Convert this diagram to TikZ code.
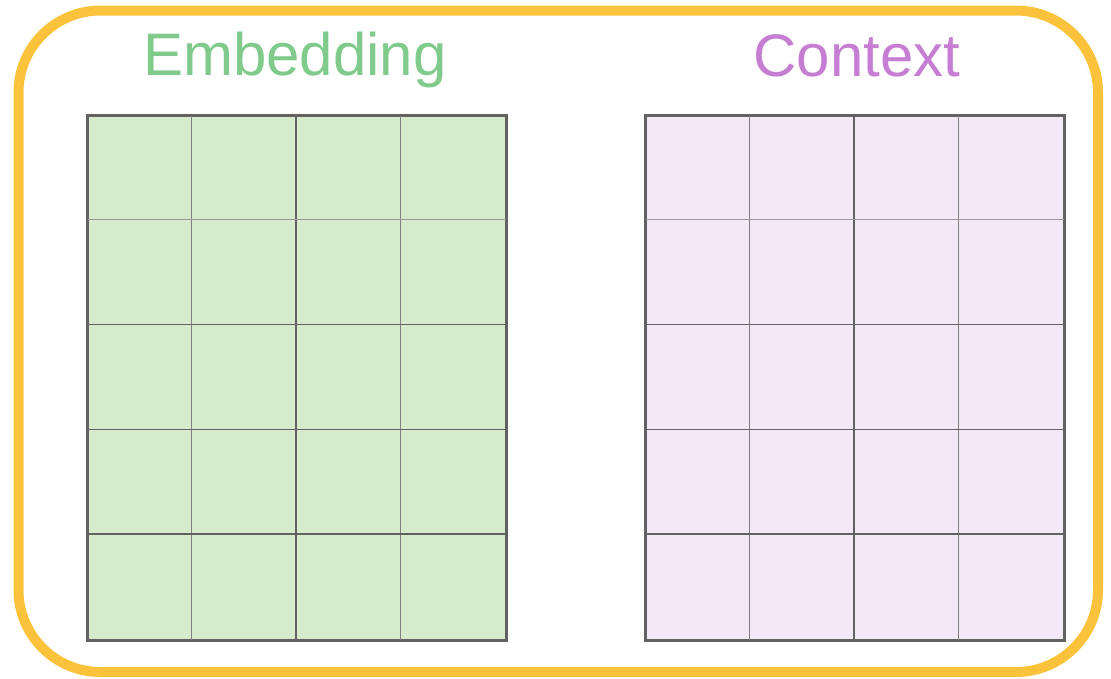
\documentclass[tikz,border=0pt]{standalone}
\usepackage{fontspec}
\setmainfont{Liberation Sans}
\usetikzlibrary{calc}

\definecolor{framegold}{HTML}{FBC33B}
\definecolor{embgreen}{HTML}{80CB8B}
\definecolor{embfill}{HTML}{D5EBCB}
\definecolor{ctxpurple}{HTML}{C67ED3}
\definecolor{ctxfill}{HTML}{F3E8F6}
\definecolor{linegray}{HTML}{626262}

\begin{document}
\begin{tikzpicture}[
  x=1pt, y=-1pt,
  % rounded outer frame
  frame/.style={
    draw=framegold,
    line width=10pt,
    rounded corners=82pt,
    minimum width=1079.5pt,
    minimum height=661.5pt,
    inner sep=0pt
  },
  cellgrid/.style={
    draw=linegray,
    line width=2pt,
    minimum width=418pt,
    minimum height=524pt,
    inner sep=0pt
  },
  title/.style={font=\fontsize{60}{62}\selectfont, anchor=base, inner sep=0pt},
  minorline/.style={line width=1pt, draw=black!50},
  majorline/.style={line width=1.8pt, draw=linegray}
]
\useasboundingbox (0,0) rectangle (1111,678);

\node[frame] (frame) at (558.25,341.25) {};

\node[title, text=embgreen] (embtitle) at (295,75) {Embedding};
\node[title, text=ctxpurple] (ctxtitle) at (857,76) {Context};

% the two 4x5 grids
\node[cellgrid, fill=embfill] (embgrid) at (297,378) {};
\node[cellgrid, fill=ctxfill] (ctxgrid) at (855,378) {};

\foreach \g in {embgrid,ctxgrid}{
  \foreach \c in {1,3}
    \draw[minorline] ($(\g.north west)+(\c*104.5,0)$) -- ($(\g.south west)+(\c*104.5,0)$);
  \draw[majorline] ($(\g.north west)+(209,0)$) -- ($(\g.south west)+(209,0)$);
  \foreach \r in {1}
    \draw[minorline, draw=black!40] ($(\g.north west)+(0,\r*104.8)$) -- ($(\g.north east)+(0,\r*104.8)$);
  \draw[minorline, draw=linegray] ($(\g.north west)+(0,314.4)$) -- ($(\g.north east)+(0,314.4)$);
  \foreach \r in {2,4}
    \draw[majorline, line width=1.5pt] ($(\g.north west)+(0,\r*104.8)$) -- ($(\g.north east)+(0,\r*104.8)$);
  \draw[draw=linegray, line width=2pt] (\g.north west) rectangle (\g.south east);
}

\end{tikzpicture}
\end{document}
